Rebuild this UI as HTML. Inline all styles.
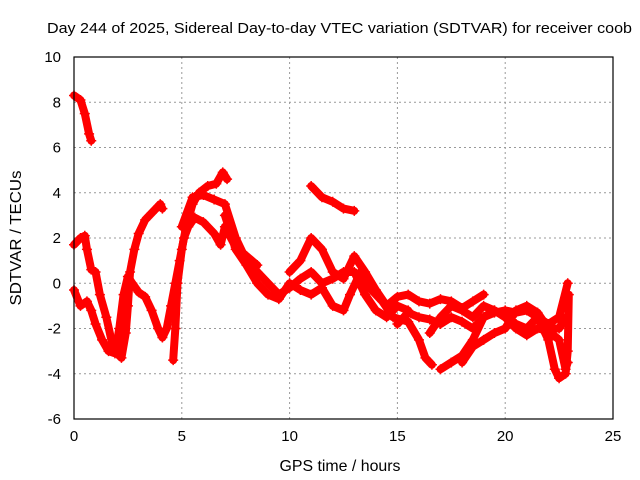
<!DOCTYPE html>
<html><head><meta charset="utf-8"><style>
body{margin:0;background:#fff;}
svg{display:block;font-family:"Liberation Sans",sans-serif;}
</style></head><body>
<svg id="chart" width="640" height="480">
<text x="339.5" y="33" text-anchor="middle" font-size="15" textLength="585" lengthAdjust="spacingAndGlyphs">Day 244 of 2025, Sidereal Day-to-day VTEC variation (SDTVAR) for receiver coob</text>
<text x="340" y="471" text-anchor="middle" font-size="16" textLength="121" lengthAdjust="spacingAndGlyphs">GPS time / hours</text>
<text transform="translate(21,238) rotate(-90)" text-anchor="middle" font-size="16" textLength="135" lengthAdjust="spacingAndGlyphs">SDTVAR / TECUs</text>
<g id="grid"></g><g id="series"></g><g id="axes"></g>
</svg>
<script>
const xTicks=[0,5,10,15,20,25];
const yTicks=[-6,-4,-2,0,2,4,6,8,10];
const track1=[[0,8.3],[0.3,8.1],[0.5,7.5],[0.7,6.6],[0.8,6.3]];
const track2=[[0,1.7],[0.3,2.0],[0.5,2.1],[0.6,1.5],[0.8,0.6],[1.0,0.5],[1.2,-0.5],[1.5,-1.5],[1.8,-2.8],[2.0,-3.1],[2.2,-3.3],[2.4,-2.2],[2.5,-1.0],[2.6,0.5],[2.8,1.5],[3.0,2.2],[3.3,2.8],[3.6,3.1],[3.9,3.4],[4.0,3.5],[4.1,3.3]];
const track3=[[0,-0.3],[0.3,-1.0],[0.6,-0.8],[0.8,-1.2],[1.0,-1.8],[1.3,-2.5],[1.6,-3.0],[1.9,-3.1],[2.1,-2.0],[2.3,-0.5],[2.5,0.3],[2.7,0],[3.0,-0.4],[3.3,-0.6],[3.6,-1.2],[3.9,-2.0],[4.1,-2.4],[4.3,-2.0],[4.5,-1.0],[4.7,0],[4.9,1.0],[5.1,2.0],[5.3,2.5],[5.6,2.9],[6.0,2.7],[6.5,2.2],[6.8,1.7],[7.0,2.5],[7.5,1.6],[8,1.2],[8.5,0.8]];
const track4=[[4.6,-3.4],[4.7,-2],[4.8,0],[5.0,1.5],[5.2,2.5],[5.5,3.5],[5.8,4.0],[6.2,4.3],[6.6,4.4],[6.9,4.9],[7.1,4.6]];
const track5=[[5.0,2.5],[5.5,3.8],[6.0,3.9],[6.5,3.7],[7.0,3.5],[7.5,2.0],[8.0,1.0],[8.5,0.5],[9.0,0.0],[9.5,-0.5],[10.0,-0.2],[10.5,0.2],[11,0.5],[11.5,0.0],[12,0.2],[12.5,0.5],[13,0.5],[13.5,-0.5],[14,-1.2],[14.5,-1.5],[15,-1.0],[15.5,-1.2]];
const track6=[[7.0,3.0],[7.5,1.5],[8,0.8],[8.5,0],[9,-0.5],[9.5,-0.7],[10,0.0],[10.5,-0.3],[11,-0.5],[11.5,-0.2],[12,-1.0],[12.5,-1.2],[12.8,-0.5],[13.3,0.5],[13.8,-0.3],[14.3,-0.8],[14.8,-1.5],[15.5,-1.7],[16.0,-2.5],[16.3,-3.3],[16.6,-3.6]];
const track7=[[10,0.5],[10.5,1.0],[11,2.0],[11.5,1.5],[12,0.5],[12.5,0.2],[13,1.2],[13.5,0.5],[14,-0.3],[14.5,-1.0],[15,-0.6],[15.5,-0.5],[16,-0.8],[16.5,-0.9],[17,-0.7],[17.5,-0.8],[18,-1.1],[18.5,-0.8],[19,-0.5]];
const track8=[[11,4.3],[11.5,3.8],[12,3.6],[12.5,3.3],[13,3.2]];
const track9=[[15,-1.8],[15.5,-1.3],[16,-1.5],[16.5,-1.6],[17,-1.8],[17.5,-1.5],[18,-1.7],[18.5,-2.0],[19,-1.5],[19.5,-1.3],[20,-1.2],[20.5,-1.3],[21,-1.2],[21.5,-1.5],[22,-1.8],[22.5,-1.5],[22.9,0]];
const track10=[[16.5,-2.2],[17,-1.5],[17.5,-1.0],[18,-1.2],[18.5,-1.5],[19,-1.0],[19.5,-1.2],[20,-1.5],[20.5,-2.0],[21,-2.3],[21.5,-2.0],[22,-2.1],[22.5,-2.5],[22.8,-3.8],[22.9,-3.5]];
const track11=[[17,-3.8],[17.5,-3.5],[18,-3.2],[18.5,-2.5],[19,-1.5],[19.5,-1.2],[20,-1.5],[20.5,-1.8],[21,-2.0],[21.5,-1.5],[22,-2.5],[22.3,-3.8],[22.5,-4.2],[22.8,-4.0],[22.9,-3.0],[22.95,-0.5]];
const track12=[[18,-3.5],[18.5,-2.8],[19,-2.5],[19.5,-2.2],[20,-2.0],[20.5,-1.2],[21,-1.0],[21.5,-1.3],[22,-2.0],[22.5,-2.0],[22.8,-1.5]];
const tracks=[track1,track2,track3,track4,track5,track6,track7,track8,track9,track10,track11,track12];

const L=74,R=613,T=57,B=419,NS="http://www.w3.org/2000/svg";
const xs=v=>L+(v-0)/25*(R-L);
const ys=v=>B-(v+6)/16*(B-T);
function mk(tag,attrs,parent){const e=document.createElementNS(NS,tag);for(const k in attrs)e.setAttribute(k,attrs[k]);parent.appendChild(e);return e;}
const grid=document.getElementById('grid'),axes=document.getElementById('axes'),ser=document.getElementById('series');
xTicks.forEach(t=>{
  if(t>0&&t<25){const g=mk('line',{x1:xs(t),x2:xs(t),y1:T,y2:B,stroke:'#999','stroke-dasharray':'2,3'},grid);
  
  }
  const tx=mk('text',{x:xs(t),y:B+22,'text-anchor':'middle','font-size':15},axes);tx.textContent=t;
  
  
});
yTicks.forEach(t=>{
  if(t>-6&&t<10){const g=mk('line',{x1:L,x2:R,y1:ys(t),y2:ys(t),stroke:'#999','stroke-dasharray':'2,3'},grid);
  
  }
  const tx=mk('text',{x:L-13,y:ys(t)+5,'text-anchor':'end','font-size':15},axes);tx.textContent=t;
  
  
});
const fr=mk('rect',{x:L,y:T,width:R-L,height:B-T,fill:'none',stroke:'#000','stroke-width':1.2},axes);


tracks.forEach((tr,i)=>{
  const pl=mk('polyline',{points:tr.map(p=>xs(p[0])+','+ys(p[1])).join(' '),fill:'none',stroke:'#f00','stroke-width':8,'stroke-linejoin':'round','stroke-linecap':'round'},ser);
  
  
  tr.forEach(p=>{
    const x=xs(p[0]),y=ys(p[1]);
    const m=mk('path',{d:`M${x-5},${y}H${x+5}M${x},${y-5}V${y+5}`,stroke:'#f00','stroke-width':1.5},ser);
    
    
  });
});
</script>
</body></html>
